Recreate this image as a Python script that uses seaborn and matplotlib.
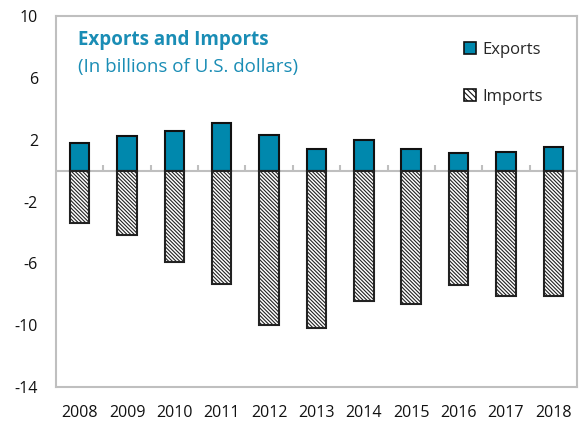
import numpy as np
import pandas as pd
import seaborn as sns
import matplotlib.pyplot as plt
from matplotlib.patches import Patch

years = ['2008', '2009', '2010', '2011', '2012', '2013', '2014', '2015', '2016', '2017', '2018']
exports = [1.77, 2.24, 2.54, 3.1, 2.32, 1.42, 1.98, 1.42, 1.14, 1.22, 1.55]
imports = [-3.37, -4.14, -5.91, -7.31, -9.99, -10.18, -8.41, -8.63, -7.42, -8.09, -8.09]
yticks = [10, 6, 2, -2, -6, -10, -14]

teal = '#0088AD'
grid_gray = '#BFBFBF'

sns.set_style('white')
plt.rcParams['font.family'] = ['Open Sans', 'DejaVu Sans']
plt.rcParams['hatch.linewidth'] = 0.8

df = pd.DataFrame({'year': years, 'Exports': exports, 'Imports': imports})

fig = plt.figure(figsize=(5.79, 4.23), dpi=100)
ax = fig.add_axes([0.0967, 0.0851, 0.8998, 0.877])

sns.barplot(data=df, x='year', y='Exports', color=teal, width=0.41,
            edgecolor='#111111', linewidth=1.5, saturation=1, ax=ax)
sns.barplot(data=df, x='year', y='Imports', color='white', width=0.41,
            edgecolor='#222222', linewidth=1.5, saturation=1, ax=ax)
for p in ax.patches[len(years):]:
    p.set_hatch('\\' * 9)

ax.axhline(0, color=grid_gray, lw=1.5, zorder=0.5)
bounds = np.arange(len(years) - 1) + 0.5
ax.vlines(bounds, 0, 0.35, color=grid_gray, lw=1.5, zorder=0.5)

ax.set_ylim(-14, 10)
ax.set_xlim(-0.5, len(years) - 0.5)
ax.set_yticks(yticks)
ax.set_yticklabels([str(t) for t in yticks])
ax.set_xlabel('')
ax.set_ylabel('')
ax.tick_params(axis='y', direction='in', length=5, width=1.2, color=grid_gray,
               pad=13, labelsize=11.5, labelcolor='#111111')
ax.tick_params(axis='x', length=0, pad=13, labelsize=11.5, labelcolor='#111111')
for s in ax.spines.values():
    s.set_color(grid_gray)
    s.set_linewidth(1.5)

ax.text(0.042, 0.935, 'Exports and Imports', transform=ax.transAxes,
        color='#1A8DB5', fontsize=13.5, fontweight='bold', va='center')
ax.text(0.042, 0.862, '(In billions of U.S. dollars)', transform=ax.transAxes,
        color='#1A8DB5', fontsize=13.5, va='center')

handles = [Patch(facecolor=teal, edgecolor='#111111', lw=1.2, label='Exports'),
           Patch(facecolor='white', edgecolor='#111111', lw=1.2, hatch='\\' * 6, label='Imports')]
ax.legend(handles=handles, loc='upper left', bbox_to_anchor=(0.755, 0.97),
          frameon=False, fontsize=12, handlelength=0.7, handleheight=0.7,
          handletextpad=0.4, labelspacing=1.85)

fig.savefig('out.png', dpi=100)
